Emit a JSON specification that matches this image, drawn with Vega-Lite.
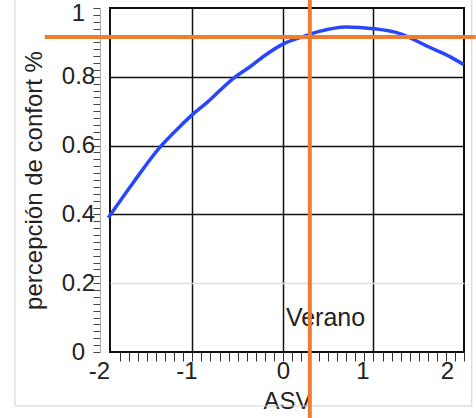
{
  "$schema": "https://vega.github.io/schema/vega-lite/v6.json",
  "width": 354,
  "height": 344,
  "autosize": "none",
  "padding": {"left": 110, "top": 8, "right": 12, "bottom": 66},
  "background": "white",
  "config": {
    "view": {"stroke": "#111111", "strokeWidth": 2},
    "font": "Liberation Sans"
  },
  "datasets": {
    "border": [{"x": -2.96, "x2": 2.086, "y": -0.157, "y2": 1.1}],
    "curve": [
      {"x": -1.93, "y": 0.39},
      {"x": -1.66, "y": 0.49},
      {"x": -1.36, "y": 0.595},
      {"x": -1.14, "y": 0.655},
      {"x": -1.0, "y": 0.69},
      {"x": -0.84, "y": 0.725},
      {"x": -0.55, "y": 0.795},
      {"x": -0.36, "y": 0.83},
      {"x": -0.2, "y": 0.862},
      {"x": 0.0, "y": 0.895},
      {"x": 0.2, "y": 0.915},
      {"x": 0.4, "y": 0.932},
      {"x": 0.7, "y": 0.945},
      {"x": 1.0, "y": 0.94},
      {"x": 1.3, "y": 0.925},
      {"x": 1.6, "y": 0.888},
      {"x": 1.85, "y": 0.858},
      {"x": 2.0, "y": 0.835}
    ],
    "label": [{"x": 0.033, "y": 0.076, "text": "Verano"}],
    "hrule": [{"x": -2.63, "x2": 2.13, "y": 0.916}],
    "vrule": [{"x": 0.297, "y": 1.023, "y2": -0.192}]
  },
  "encoding": {
    "x": {
      "field": "x",
      "type": "quantitative",
      "scale": {"domain": [-1.91, 2.0], "nice": false, "zero": false},
      "axis": {
        "title": "ASV",
        "titleFontSize": 24,
        "titleFontWeight": "normal",
        "titleColor": "#222222",
        "titleBaseline": "alphabetic",
        "titleY": 56,
        "values": [-1.9, -1.8, -1.7, -1.6, -1.5, -1.4, -1.3, -1.2, -1.1, -1, -0.9, -0.8, -0.7, -0.6, -0.5, -0.4, -0.3, -0.2, -0.1, 0, 0.1, 0.2, 0.3, 0.4, 0.5, 0.6, 0.7, 0.8, 0.9, 1, 1.1, 1.2, 1.3, 1.4, 1.5, 1.6, 1.7, 1.8, 1.9, 2],
        "domain": false,
        "tickColor": "#333333",
        "tickSize": 9,
        "tickWidth": 1,
        "tickOpacity": {"condition": {"test": "datum.value < -1.85", "value": 0}, "value": 1},
        "labelExpr": "datum.value < -1.85 ? '-2' : (abs(datum.value - round(datum.value)) < 0.001 ? '' + round(datum.value) : '')",
        "labelFontSize": 24,
        "labelColor": "#222222",
        "labelBaseline": "alphabetic",
        "labelPadding": 17,
        "labelFlush": false,
        "labelOverlap": false,
        "labelBound": false,
        "labelOffset": {"condition": [
          {"test": "datum.value > 1.5", "value": -17},
          {"test": "datum.value > 0.5", "value": -11},
          {"test": "datum.value < -1.85", "value": -12},
          {"test": "datum.value < -0.5", "value": -6}
        ], "value": 0},
        "grid": true,
        "gridColor": "#111111",
        "gridWidth": 1.5,
        "gridOpacity": {"condition": {"test": "abs(datum.value - round(datum.value)) < 0.001 && abs(datum.value) < 1.5", "value": 1}, "value": 0}
      }
    },
    "y": {
      "field": "y",
      "type": "quantitative",
      "scale": {"domain": [0, 1], "nice": false, "zero": false},
      "axis": {
        "title": "percepción de confort %",
        "titleFontSize": 24,
        "titleFontWeight": "normal",
        "titleColor": "#222222",
        "titleBaseline": "alphabetic",
        "titleX": -59,
        "titleY": 172,
        "values": [0, 0.02, 0.04, 0.06, 0.08, 0.1, 0.12, 0.14, 0.16, 0.18, 0.2, 0.22, 0.24, 0.26, 0.28, 0.3, 0.32, 0.34, 0.36, 0.38, 0.4, 0.42, 0.44, 0.46, 0.48, 0.5, 0.52, 0.54, 0.56, 0.58, 0.6, 0.62, 0.64, 0.66, 0.68, 0.7, 0.72, 0.74, 0.76, 0.78, 0.8, 0.82, 0.84, 0.86, 0.88, 0.9, 0.92, 0.94, 0.96, 0.98, 1],
        "offset": 10,
        "domain": true,
        "domainColor": "#aaaaaa",
        "tickColor": "#444444",
        "tickSize": 7,
        "tickWidth": 1,
        "labelExpr": "abs(datum.value * 5 - round(datum.value * 5)) < 0.001 ? '' + round(datum.value * 10) / 10 : ''",
        "labelFontSize": 24,
        "labelColor": "#222222",
        "labelAlign": "center",
        "labelBaseline": "middle",
        "labelPadding": 15,
        "labelOverlap": false,
        "labelFlush": false,
        "labelOffset": {"condition": {"test": "datum.value > 0.99", "value": 5}, "value": 0},
        "grid": true,
        "gridWidth": 1.5,
        "gridColor": {"condition": {"test": "abs(datum.value - 0.2) < 0.001", "value": "#dddddd"}, "value": "#111111"},
        "gridOpacity": {"condition": {"test": "abs(datum.value * 5 - round(datum.value * 5)) < 0.001 && datum.value > 0.1 && datum.value < 0.9", "value": 1}, "value": 0}
      }
    }
  },
  "layer": [
    {
      "data": {"name": "border"},
      "mark": {"type": "rect", "filled": false, "stroke": "#cfcfcf", "strokeWidth": 1, "clip": false},
      "encoding": {
        "x2": {"field": "x2"},
        "y2": {"field": "y2"}
      }
    },
    {
      "data": {"name": "curve"},
      "mark": {"type": "line", "interpolate": "monotone", "color": "#2846fa", "strokeWidth": 3.5, "clip": false},
      "encoding": {}
    },
    {
      "data": {"name": "label"},
      "mark": {"type": "text", "align": "left", "baseline": "alphabetic", "fontSize": 25, "color": "#222222", "clip": false},
      "encoding": {"text": {"field": "text"}}
    },
    {
      "data": {"name": "hrule"},
      "mark": {"type": "rule", "color": "#ed7d31", "strokeWidth": 4, "clip": false},
      "encoding": {"x2": {"field": "x2"}}
    },
    {
      "data": {"name": "vrule"},
      "mark": {"type": "rule", "color": "#ed7d31", "strokeWidth": 4, "clip": false},
      "encoding": {"y2": {"field": "y2"}}
    }
  ]
}
